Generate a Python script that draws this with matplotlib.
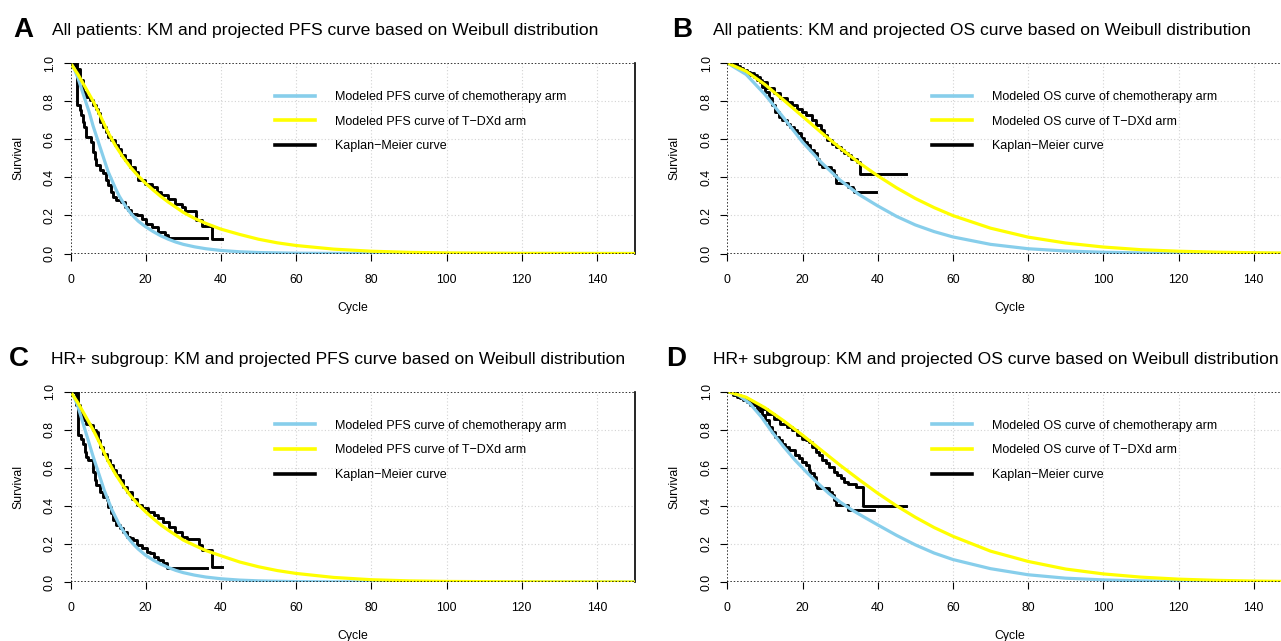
import matplotlib
matplotlib.use("Agg")
import matplotlib.pyplot as plt
from matplotlib.lines import Line2D

plt.rcParams['font.family'] = ['Liberation Sans', 'DejaVu Sans']

# ---- modeled (Weibull) curves ----
A_chemo_t = [0, 1, 2, 3, 4, 5, 6, 7, 8, 9, 10, 11, 12, 13, 14, 15, 16, 17, 18, 20, 22, 24, 26, 28, 30,
             33, 36, 40, 45, 50, 60, 70, 80, 100, 150]
A_chemo_s = [1, 0.97, 0.92, 0.86, 0.80, 0.74, 0.67, 0.61, 0.55, 0.49, 0.43, 0.385, 0.34, 0.30, 0.268, 0.238,
             0.212, 0.19, 0.17, 0.14, 0.115, 0.093, 0.075, 0.06, 0.048, 0.035, 0.025, 0.016, 0.009, 0.005,
             0.0015, 0.0005, 0.0001, 0, 0]
C_chemo_t = A_chemo_t
C_chemo_s = [1, 0.97, 0.92, 0.855, 0.79, 0.725, 0.66, 0.60, 0.54, 0.48, 0.43, 0.38, 0.34, 0.30, 0.27, 0.24,
             0.215, 0.193, 0.173, 0.14, 0.115, 0.094, 0.076, 0.061, 0.049, 0.036, 0.026, 0.017, 0.01, 0.006,
             0.002, 0.0007, 0.0002, 0, 0]

A_tdxd_t = [0, 2, 4, 6, 8, 10, 12, 14, 16, 18, 20, 22, 24, 26, 28, 30, 33, 36, 40, 45, 50, 55, 60, 70, 80,
            90, 100, 120, 150]
A_tdxd_s = [1, 0.94, 0.87, 0.80, 0.72, 0.635, 0.565, 0.505, 0.452, 0.407, 0.368, 0.333, 0.30, 0.27, 0.243,
            0.216, 0.184, 0.158, 0.128, 0.10, 0.075, 0.056, 0.042, 0.023, 0.012, 0.006, 0.003, 0.0008, 0]
C_tdxd_t = A_tdxd_t
C_tdxd_s = [1, 0.94, 0.87, 0.80, 0.72, 0.635, 0.565, 0.505, 0.452, 0.407, 0.368, 0.333, 0.30, 0.272, 0.246,
            0.22, 0.192, 0.165, 0.138, 0.105, 0.08, 0.06, 0.045, 0.024, 0.012, 0.006, 0.003, 0.0008, 0]

B_chemo_t = [0, 5, 10, 15, 20, 25, 30, 35, 40, 45, 50, 55, 60, 70, 80, 90, 100, 110, 120, 135, 150]
B_chemo_s = [1, 0.94, 0.835, 0.712, 0.585, 0.478, 0.385, 0.31, 0.25, 0.195, 0.15, 0.115, 0.087, 0.048,
             0.025, 0.013, 0.0065, 0.003, 0.0015, 0.0005, 0.0001]
B_tdxd_t = [0, 5, 10, 15, 20, 25, 30, 35, 40, 45, 50, 55, 60, 70, 80, 90, 100, 110, 120, 130, 140, 150]
B_tdxd_s = [1, 0.957, 0.887, 0.805, 0.72, 0.635, 0.554, 0.477, 0.408, 0.345, 0.289, 0.241, 0.199, 0.133,
            0.086, 0.055, 0.034, 0.02, 0.012, 0.007, 0.004, 0.002]

D_chemo_t = [0, 3, 6, 9, 12, 15, 18, 21, 24, 27, 30, 33, 36, 40, 45, 50, 55, 60, 70, 80, 90, 100, 110, 120,
             135, 150]
D_chemo_s = [1, 0.98, 0.937, 0.868, 0.785, 0.71, 0.64, 0.578, 0.52, 0.465, 0.42, 0.38, 0.345, 0.30, 0.245,
             0.195, 0.152, 0.118, 0.07, 0.038, 0.02, 0.011, 0.006, 0.003, 0.001, 0.0004]
D_tdxd_t = [0, 5, 10, 15, 20, 25, 30, 35, 40, 45, 50, 55, 60, 70, 80, 90, 100, 110, 120, 130, 140, 150]
D_tdxd_s = [1, 0.970, 0.915, 0.846, 0.771, 0.692, 0.613, 0.538, 0.466, 0.40, 0.34, 0.286, 0.24, 0.162,
            0.108, 0.068, 0.0425, 0.0256, 0.015, 0.0087, 0.0049, 0.0027]

# ---- Kaplan-Meier step curves ----
A_km_tdxd_t = [0, 1.1, 2.4, 3.3, 4.2, 5.1, 6.0, 6.9, 7.3, 7.75, 8.6, 9.5, 10.0, 10.9, 11.8, 12.7, 13.5, 14.4,
               15.8, 17.1, 18.0, 19.8, 21.6, 22.9, 24.2, 26.0, 27.8, 29.6, 30.5, 33.3, 34.9, 37.5, 40.2]
A_km_tdxd_s = [1.0, 0.97, 0.91, 0.85, 0.82, 0.805, 0.78, 0.76, 0.735, 0.69, 0.665, 0.64, 0.61, 0.595, 0.57,
               0.55, 0.515, 0.49, 0.455, 0.43, 0.385, 0.367, 0.35, 0.323, 0.305, 0.288, 0.26, 0.244, 0.225,
               0.175, 0.145, 0.075, 0.075]
A_km_chemo_t = [0, 1.7, 2.4, 2.85, 3.3, 3.7, 4.2, 5.5, 6.0, 6.4, 6.9, 7.75, 8.6, 9.5, 10.0, 10.9, 11.3, 12.2,
                13.5, 14.4, 15.3, 16.0, 17.6, 18.9, 20.2, 21.6, 23.4, 25.1, 26.0, 36.3]
A_km_chemo_s = [1.0, 0.78, 0.753, 0.726, 0.69, 0.665, 0.612, 0.586, 0.533, 0.498, 0.463, 0.437, 0.42, 0.384,
                0.358, 0.323, 0.296, 0.279, 0.27, 0.244, 0.226, 0.209, 0.2, 0.182, 0.156, 0.139, 0.112, 0.095,
                0.081, 0.081]

B_km_tdxd_t = [0, 1.6, 3.4, 5.2, 7.0, 8.75, 10.5, 12.3, 14.1, 15.9, 17.2, 18.6, 19.9, 20.8, 22.6, 23.5, 24.8,
               25.7, 26.6, 27.9, 28.8, 30.2, 31.1, 32.0, 32.9, 34.6, 35.4, 47.6]
B_km_tdxd_s = [1.0, 0.986, 0.963, 0.946, 0.928, 0.902, 0.867, 0.84, 0.814, 0.796, 0.779, 0.761, 0.744, 0.726,
               0.70, 0.674, 0.647, 0.621, 0.595, 0.577, 0.56, 0.542, 0.525, 0.516, 0.498, 0.48, 0.419, 0.419]
B_km_chemo_t = [0, 2.5, 4.3, 6.1, 7.9, 9.2, 10.1, 11.0, 11.9, 12.8, 13.7, 14.6, 15.9, 16.8, 17.7, 18.6, 19.5,
                20.4, 21.25, 22.1, 23.0, 23.9, 24.4, 25.3, 27.5, 28.4, 28.8, 32.0, 33.3, 33.75, 39.6]
B_km_chemo_s = [1.0, 0.972, 0.954, 0.937, 0.91, 0.875, 0.849, 0.814, 0.779, 0.744, 0.718, 0.70, 0.682, 0.665,
                0.647, 0.63, 0.604, 0.586, 0.568, 0.542, 0.525, 0.498, 0.472, 0.454, 0.437, 0.41, 0.37, 0.349,
                0.34, 0.323, 0.323]

C_km_tdxd_t = [0, 1.5, 2.4, 3.3, 4.2, 5.1, 6.0, 6.9, 7.3, 7.8, 8.7, 9.6, 10.5, 11.3, 12.2, 13.1, 14.0, 14.9,
               16.25, 17.6, 18.9, 20.7, 22.1, 23.4, 24.7, 26.1, 27.9, 29.6, 31.0, 34.1, 35.0, 37.7, 40.4]
C_km_tdxd_s = [1.0, 0.928, 0.884, 0.849, 0.832, 0.823, 0.797, 0.788, 0.744, 0.709, 0.674, 0.639, 0.613, 0.587,
               0.561, 0.534, 0.5, 0.473, 0.438, 0.403, 0.386, 0.369, 0.351, 0.334, 0.316, 0.29, 0.264, 0.238,
               0.225, 0.194, 0.168, 0.08, 0.08]
C_km_chemo_t = [0, 2.0, 2.9, 3.3, 3.75, 4.2, 4.6, 6.0, 6.4, 6.9, 7.8, 8.7, 9.6, 10.0, 10.9, 11.3, 12.2, 13.1,
                14.0, 14.9, 15.8, 16.7, 17.6, 18.9, 20.3, 21.2, 22.1, 23.4, 24.7, 25.6, 36.3]
C_km_chemo_s = [1.0, 0.77, 0.753, 0.727, 0.683, 0.657, 0.639, 0.578, 0.534, 0.508, 0.473, 0.447, 0.43, 0.395,
                0.36, 0.325, 0.299, 0.281, 0.264, 0.238, 0.229, 0.22, 0.194, 0.176, 0.159, 0.15, 0.133, 0.115,
                0.098, 0.075, 0.075]

D_km_tdxd_t = [0, 1.6, 3.4, 5.2, 7.0, 8.75, 10.5, 12.3, 14.1, 15.9, 17.2, 18.6, 19.9, 20.8, 21.7, 22.6, 23.5,
               24.4, 25.3, 26.2, 27.1, 28.4, 29.3, 30.2, 31.1, 32.0, 34.2, 36.0, 47.6]
D_km_tdxd_s = [1.0, 0.983, 0.965, 0.944, 0.927, 0.906, 0.883, 0.857, 0.831, 0.814, 0.797, 0.774, 0.753, 0.744,
               0.736, 0.71, 0.683, 0.666, 0.64, 0.623, 0.605, 0.579, 0.562, 0.548, 0.527, 0.513, 0.50, 0.397,
               0.397]
D_km_chemo_t = [0, 2.5, 4.3, 6.1, 7.9, 9.2, 10.1, 11.0, 11.9, 12.8, 13.7, 14.6, 15.4, 16.3, 18.1, 19.0, 19.9,
                20.8, 21.7, 22.1, 23.0, 23.5, 23.9, 27.1, 27.9, 28.4, 28.8, 32.0, 39.1]
D_km_chemo_s = [1.0, 0.97, 0.953, 0.93, 0.90, 0.875, 0.849, 0.814, 0.788, 0.762, 0.744, 0.727, 0.71, 0.692,
                0.666, 0.649, 0.631, 0.614, 0.588, 0.57, 0.553, 0.51, 0.492, 0.475, 0.457, 0.431, 0.405, 0.379,
                0.379]

letters = ['A', 'B', 'C', 'D']
titles = ['All patients: KM and projected PFS curve based on Weibull distribution',
          'All patients: KM and projected OS curve based on Weibull distribution',
          'HR+ subgroup: KM and projected PFS curve based on Weibull distribution',
          'HR+ subgroup: KM and projected OS curve based on Weibull distribution']
endpoints = ['PFS', 'OS', 'PFS', 'OS']
x_ticks = [0, 20, 40, 60, 80, 100, 120, 140]
y_ticks = [0.0, 0.2, 0.4, 0.6, 0.8, 1.0]

panels = [
    (A_chemo_t, A_chemo_s, A_tdxd_t, A_tdxd_s, A_km_tdxd_t, A_km_tdxd_s, A_km_chemo_t, A_km_chemo_s),
    (B_chemo_t, B_chemo_s, B_tdxd_t, B_tdxd_s, B_km_tdxd_t, B_km_tdxd_s, B_km_chemo_t, B_km_chemo_s),
    (C_chemo_t, C_chemo_s, C_tdxd_t, C_tdxd_s, C_km_tdxd_t, C_km_tdxd_s, C_km_chemo_t, C_km_chemo_s),
    (D_chemo_t, D_chemo_s, D_tdxd_t, D_tdxd_s, D_km_tdxd_t, D_km_tdxd_s, D_km_chemo_t, D_km_chemo_s),
]

W, H = 1281, 641
fig = plt.figure(figsize=(W / 100, H / 100), dpi=100)


def fx(x):
    return x / W


def fy(y):
    return 1 - y / H


# pixel layout: left of axes, top of axes
origins = [(70.5, 63), (727.3, 63), (70.5, 391.5), (727.3, 391.5)]
ax_w, ax_h = 564, 190.5
letter_x = [13, 672, 9, 666]
title_x = [52, 713, 51, 713]

blue = '#87CEEB'
yellow = '#FFFF00'

for i, (ct, cs, tt, ts, kt1, ks1, kt2, ks2) in enumerate(panels):
    left, top = origins[i]
    ax = fig.add_axes([fx(left), fy(top + ax_h), ax_w / W, ax_h / H])
    ax.set_xlim(0, 150)
    ax.set_ylim(0, 1)

    # grid
    for xv in x_ticks[1:]:
        ax.axvline(xv, color='#d3d3d3', lw=0.8, ls=(0, (1, 2)), zorder=0)
    for yv in y_ticks[1:-1]:
        ax.axhline(yv, color='#d3d3d3', lw=0.8, ls=(0, (1, 2)), zorder=0)

    ax.step(kt1, ks1, where='post', color='black', lw=2.1, zorder=2)
    ax.step(kt2, ks2, where='post', color='black', lw=2.1, zorder=2)
    ax.plot(ct, cs, color=blue, lw=2.3, zorder=3)
    ax.plot(tt, ts, color=yellow, lw=2.3, zorder=3)

    ax.axhline(0, color='black', lw=1.1, ls=(0, (1, 1.2)), zorder=4)
    ax.axhline(1, color='black', lw=1.1, ls=(0, (1, 1.2)), zorder=4)
    ax.axvline(0, color='black', lw=1.1, ls=(0, (1, 1.2)), zorder=4)

    for s in ['top', 'left', 'bottom']:
        ax.spines[s].set_visible(False)
    ax.spines['right'].set_linewidth(1.2)

    ax.set_xticks(x_ticks)
    ax.set_xticklabels([str(v) for v in x_ticks], fontsize=8.8)
    ax.set_yticks(y_ticks)
    ax.set_yticklabels(['%.1f' % v for v in y_ticks], fontsize=8.8, rotation=90, va='center')
    ax.tick_params(axis='x', length=5, width=0.8, pad=9.5)
    ax.tick_params(axis='y', length=5, width=0.8, pad=5.5)

    ep = endpoints[i]
    handles = [Line2D([], [], color=blue, lw=2.6),
               Line2D([], [], color=yellow, lw=2.6),
               Line2D([], [], color='black', lw=2.6)]
    labels = ['Modeled %s curve of chemotherapy arm' % ep,
              'Modeled %s curve of T\u2212DXd arm' % ep,
              'Kaplan\u2212Meier curve']
    ax.legend(handles, labels, loc='upper left', bbox_to_anchor=((275 - 70.5) / ax_w, 1 - 28 / ax_h),
              frameon=False, fontsize=9, handlelength=3.2, handletextpad=1.6, labelspacing=1.02,
              borderaxespad=0, borderpad=0)

    fig.text(fx(letter_x[i]), fy(top - 33), letters[i], fontsize=20, fontweight='bold', va='center', ha='left')
    fig.text(fx(title_x[i]), fy(top - 32), titles[i], fontsize=12.6, va='center', ha='left')
    fig.text(fx(left - 52.5), fy(top + ax_h / 2), 'Survival', fontsize=8.8, rotation=90, va='center',
             ha='center')
    fig.text(fx(left + 282), fy(top + ax_h + 54), 'Cycle', fontsize=8.8, va='center', ha='center')

fig.savefig('out.png', dpi=100)
